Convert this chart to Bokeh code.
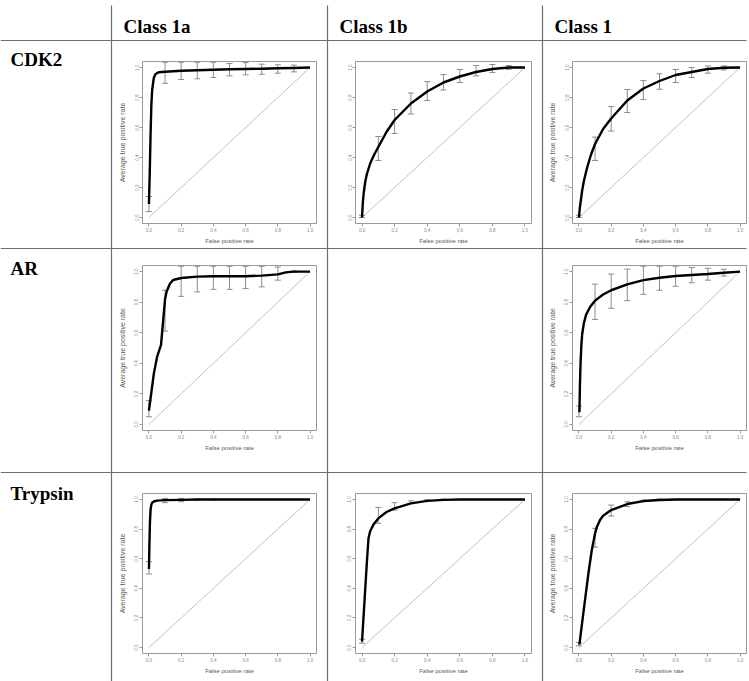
from bokeh.plotting import figure
from bokeh.models import (Range1d, FixedTicker, PrintfTickFormatter, Whisker,
                          TeeHead, ColumnDataSource, GridBox)
from bokeh.core.properties import value
from bokeh.embed import file_html
from bokeh.resources import INLINE

# ---------------- data ----------------
row_labels = ["CDK2", "AR", "Trypsin"]
col_labels = ["Class 1a", "Class 1b", "Class 1"]
axis_ticks = [0.0, 0.2, 0.4, 0.6, 0.8, 1.0]
x_title = "False positive rate"
y_title = "Average true positive rate"
diag_x = [0.0, 1.0]
diag_y = [0.0, 1.0]
err_fpr = [0.0, 0.1, 0.2, 0.3, 0.4, 0.5, 0.6, 0.7, 0.8, 0.9]

cdk2_1a_fpr = [0.0, 0.005, 0.01, 0.015, 0.02, 0.03, 0.04, 0.06, 0.1, 0.2, 0.3, 0.4, 0.5, 0.6, 0.7, 0.8, 0.9, 1.0]
cdk2_1a_tpr = [0.09, 0.30, 0.55, 0.75, 0.85, 0.93, 0.955, 0.968, 0.972, 0.978, 0.982, 0.985, 0.988, 0.990, 0.992, 0.995, 0.997, 1.0]
cdk2_1a_lo = [0.04, 0.895, 0.92, 0.925, 0.933, 0.944, 0.951, 0.955, 0.962, 0.971]
cdk2_1a_hi = [0.14, 1.035, 1.035, 1.035, 1.035, 1.027, 1.033, 1.022, 1.018, 1.016]

cdk2_1b_fpr = [0.0, 0.005, 0.01, 0.02, 0.03, 0.05, 0.075, 0.1, 0.15, 0.2, 0.3, 0.4, 0.5, 0.6, 0.7, 0.8, 0.9, 1.0]
cdk2_1b_tpr = [0.0, 0.10, 0.16, 0.24, 0.29, 0.36, 0.42, 0.47, 0.57, 0.65, 0.76, 0.84, 0.90, 0.94, 0.97, 0.99, 1.0, 1.0]
cdk2_1b_lo = [0.0, 0.38, 0.56, 0.69, 0.78, 0.85, 0.90, 0.944, 0.967, 0.987]
cdk2_1b_hi = [0.015, 0.54, 0.72, 0.83, 0.906, 0.953, 0.987, 1.013, 1.02, 1.013]

cdk2_1_fpr = [0.0, 0.005, 0.01, 0.02, 0.03, 0.05, 0.075, 0.1, 0.15, 0.2, 0.3, 0.4, 0.5, 0.6, 0.7, 0.8, 0.9, 1.0]
cdk2_1_tpr = [0.0, 0.06, 0.10, 0.18, 0.24, 0.33, 0.42, 0.49, 0.59, 0.66, 0.78, 0.86, 0.91, 0.95, 0.97, 0.99, 0.998, 1.0]
cdk2_1_lo = [0.0, 0.38, 0.576, 0.70, 0.786, 0.855, 0.90, 0.933, 0.962, 0.984]
cdk2_1_hi = [0.015, 0.536, 0.74, 0.853, 0.913, 0.958, 0.987, 1.0, 1.01, 1.01]

ar_1a_fpr = [0.0, 0.03, 0.05, 0.075, 0.09, 0.1, 0.11, 0.13, 0.15, 0.2, 0.3, 0.4, 0.5, 0.6, 0.7, 0.8, 0.85, 0.9, 1.0]
ar_1a_tpr = [0.09, 0.33, 0.44, 0.52, 0.70, 0.82, 0.87, 0.92, 0.945, 0.958, 0.967, 0.97, 0.97, 0.97, 0.974, 0.982, 0.995, 1.0, 1.0]
ar_1a_lo = [0.05, 0.611, 0.838, 0.867, 0.884, 0.884, 0.889, 0.90, 0.944, 0.995]
ar_1a_hi = [0.156, 0.878, 1.035, 1.035, 1.035, 1.035, 1.035, 1.035, 1.03, 1.005]

ar_1_fpr = [0.003, 0.006, 0.01, 0.015, 0.02, 0.03, 0.045, 0.07, 0.1, 0.15, 0.2, 0.3, 0.4, 0.5, 0.6, 0.7, 0.8, 0.9, 1.0]
ar_1_tpr = [0.08, 0.25, 0.40, 0.52, 0.59, 0.66, 0.72, 0.77, 0.81, 0.85, 0.878, 0.916, 0.944, 0.96, 0.971, 0.978, 0.984, 0.993, 1.0]
ar_1_lo = [0.05, 0.687, 0.76, 0.81, 0.851, 0.878, 0.904, 0.927, 0.944, 0.971]
ar_1_hi = [0.12, 0.918, 0.984, 1.016, 1.035, 1.035, 1.035, 1.027, 1.022, 1.016]

tryp_1a_fpr = [0.0, 0.003, 0.006, 0.01, 0.015, 0.02, 0.03, 0.05, 0.1, 0.2, 0.3, 0.5, 1.0]
tryp_1a_tpr = [0.53, 0.70, 0.84, 0.93, 0.965, 0.978, 0.986, 0.992, 0.995, 0.997, 0.999, 1.0, 1.0]
tryp_1a_lo = [0.497, 0.978, 0.984, 0.994, 0.997, 0.999, 0.999, 0.999, 0.999, 0.999]
tryp_1a_hi = [0.58, 1.007, 1.007, 1.003, 1.002, 1.001, 1.001, 1.001, 1.001, 1.001]

tryp_1b_fpr = [0.0, 0.01, 0.02, 0.03, 0.04, 0.05, 0.07, 0.1, 0.15, 0.2, 0.3, 0.4, 0.5, 0.6, 1.0]
tryp_1b_tpr = [0.04, 0.22, 0.40, 0.58, 0.74, 0.785, 0.83, 0.872, 0.915, 0.94, 0.973, 0.99, 0.997, 1.0, 1.0]
tryp_1b_lo = [0.029, 0.839, 0.928, 0.973, 0.99, 0.998, 0.999, 0.999, 0.999, 0.999]
tryp_1b_hi = [0.056, 0.946, 0.978, 0.991, 0.998, 1.002, 1.001, 1.001, 1.001, 1.001]

tryp_1_fpr = [0.003, 0.02, 0.04, 0.06, 0.08, 0.1, 0.11, 0.13, 0.15, 0.2, 0.3, 0.4, 0.5, 0.6, 1.0]
tryp_1_tpr = [0.02, 0.17, 0.34, 0.51, 0.66, 0.77, 0.81, 0.86, 0.89, 0.928, 0.969, 0.989, 0.996, 1.0, 1.0]
tryp_1_lo = [0.011, 0.678, 0.888, 0.951, 0.985, 0.995, 0.999, 0.999, 0.999, 0.999]
tryp_1_hi = [0.034, 0.805, 0.962, 0.984, 0.995, 1.003, 1.001, 1.001, 1.001, 1.001]

panels = {
    (0, 0): (cdk2_1a_fpr, cdk2_1a_tpr, cdk2_1a_lo, cdk2_1a_hi),
    (0, 1): (cdk2_1b_fpr, cdk2_1b_tpr, cdk2_1b_lo, cdk2_1b_hi),
    (0, 2): (cdk2_1_fpr, cdk2_1_tpr, cdk2_1_lo, cdk2_1_hi),
    (1, 0): (ar_1a_fpr, ar_1a_tpr, ar_1a_lo, ar_1a_hi),
    (1, 2): (ar_1_fpr, ar_1_tpr, ar_1_lo, ar_1_hi),
    (2, 0): (tryp_1a_fpr, tryp_1a_tpr, tryp_1a_lo, tryp_1a_hi),
    (2, 1): (tryp_1b_fpr, tryp_1b_tpr, tryp_1b_lo, tryp_1b_hi),
    (2, 2): (tryp_1_fpr, tryp_1_tpr, tryp_1_lo, tryp_1_hi),
}

# ---------------- layout (page pixels) ----------------
COL_EDGES = [0, 111, 327, 542, 749]
ROW_EDGES = [0, 40, 248, 472, 681]
col_w = [COL_EDGES[i + 1] - COL_EDGES[i] for i in range(4)]
row_h = [ROW_EDGES[i + 1] - ROW_EDGES[i] for i in range(4)]
col_borders = [(31, 11), (28, 11), (30, 3)]
row_borders = [(21, 25), (17, 42), (21, 28)]

LINE_C = "#6e6e6e"
HEAD_FONT = "Liberation Serif"

# background: table lines and headers (frame fixed to the full table)
bg = figure(frame_width=sum(col_w), frame_height=sum(row_h), output_backend="svg",
            toolbar_location=None, x_axis_type=None, y_axis_type=None,
            x_range=Range1d(COL_EDGES[0], COL_EDGES[-1]),
            y_range=Range1d(ROW_EDGES[-1], ROW_EDGES[0]),
            min_border=0, min_border_left=0, min_border_right=0,
            min_border_top=0, min_border_bottom=0,
            outline_line_color=None, title=None)
bg.grid.visible = False
bg.background_fill_color = "white"
bg.border_fill_color = "white"
hy = ROW_EDGES[1:4]
bg.segment(x0=[0] * 3, y0=hy, x1=[746] * 3, y1=hy, line_color=LINE_C, line_width=1.2)
vx = COL_EDGES[1:4]
bg.segment(x0=vx, y0=[5] * 3, x1=vx, y1=[681] * 3, line_color=LINE_C, line_width=1.2)
bg.text(x=[123, 339, 554], y=[26] * 3, text=col_labels,
        text_font=value(HEAD_FONT), text_font_style=value("bold"),
        text_font_size=value("19px"), text_color="black",
        text_align="left", text_baseline="alphabetic")
bg.text(x=[10] * 3, y=[59, 268, 493], text=row_labels,
        text_font=value(HEAD_FONT), text_font_style=value("bold"),
        text_font_size=value("19px"), text_color="black",
        text_align="left", text_baseline="alphabetic")

BOX_C = "#9a9a9a"


def roc_panel(r, c, fpr, tpr, lo, hi):
    bl, br = col_borders[c]
    bt, bb = row_borders[r]
    p = figure(width=col_w[c + 1], height=row_h[r + 1], output_backend="svg",
               toolbar_location=None,
               x_range=Range1d(-0.04, 1.04), y_range=Range1d(-0.04, 1.04),
               min_border_left=bl, min_border_right=br,
               min_border_top=bt, min_border_bottom=bb)
    p.background_fill_alpha = 0
    p.border_fill_alpha = 0
    p.outline_line_color = BOX_C
    p.outline_line_width = 1
    p.grid.visible = False
    for ax in (p.xaxis[0], p.yaxis[0]):
        ax.ticker = FixedTicker(ticks=axis_ticks)
        ax.formatter = PrintfTickFormatter(format="%.1f")
        ax.major_label_text_font_size = "4.5px"
        ax.major_label_text_font = "Liberation Sans"
        ax.major_label_text_color = "#8a8a8a"
        ax.major_tick_out = 3
        ax.major_tick_in = 0
        ax.minor_tick_line_color = None
        ax.axis_line_color = BOX_C
        ax.major_tick_line_color = BOX_C
        ax.bounds = (0, 1)
        ax.major_label_standoff = 1
        ax.axis_label_text_font = "Liberation Sans"
        ax.axis_label_text_font_style = "normal"
        ax.axis_label_text_color = "#5a5a5a"
    p.xaxis.axis_label = x_title
    p.xaxis.axis_label_text_font_size = "6px"
    p.xaxis.axis_label_standoff = 3
    if c != 1:
        p.yaxis.axis_label = y_title
    p.yaxis.axis_label_text_font_size = "7px"
    p.yaxis.axis_label_standoff = 6
    p.yaxis.major_label_orientation = "vertical"

    p.line(diag_x, diag_y, line_color="#a8a8a8", line_width=0.7)
    src = ColumnDataSource(dict(x=err_fpr, lo=lo, hi=hi))
    wh = Whisker(base="x", lower="lo", upper="hi", source=src,
                 line_color="#8c8c8c", line_width=1,
                 upper_head=TeeHead(size=6, line_color="#8c8c8c", line_width=1),
                 lower_head=TeeHead(size=6, line_color="#8c8c8c", line_width=1))
    p.add_layout(wh)
    p.line(fpr, tpr, line_color="black", line_width=2.4, line_join="round")
    return p


children = [(bg, 0, 0, 4, 4)]
for (r, c), (fpr, tpr, lo, hi) in panels.items():
    children.append((roc_panel(r, c, fpr, tpr, lo, hi), r + 1, c + 1))

grid = GridBox(children=children,
               cols=[f"{w}px" for w in col_w],
               rows=[f"{h}px" for h in row_h],
               spacing=0, width=sum(col_w), height=sum(row_h),
               styles={"overflow": "hidden"})

open("out.html", "w").write(file_html(grid, INLINE, title="ROC curves"))
